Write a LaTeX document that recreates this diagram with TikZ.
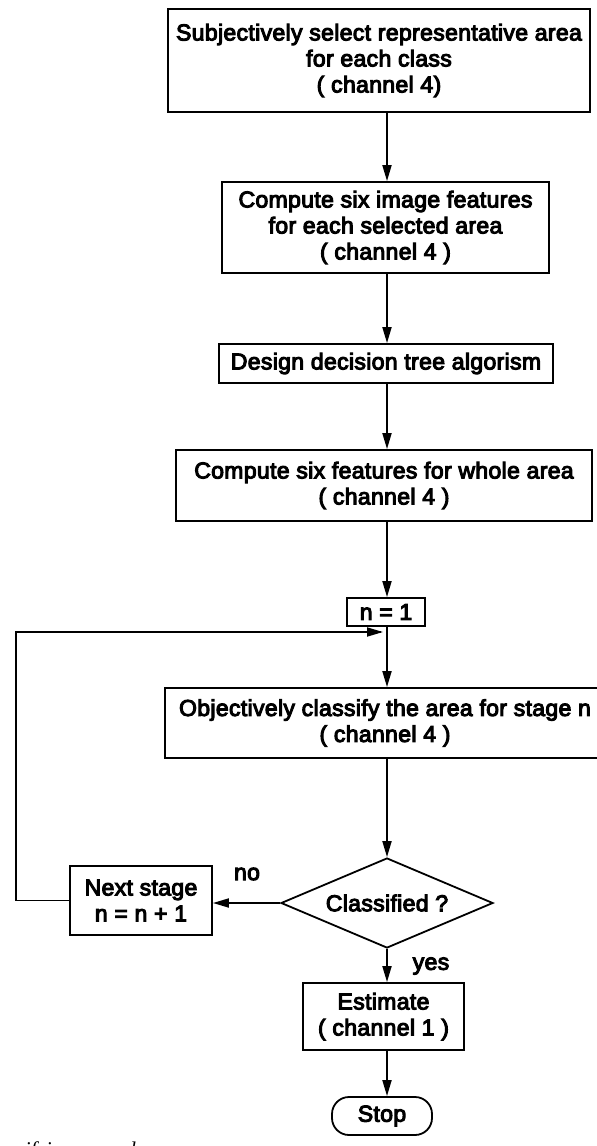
\documentclass[tikz,border=0pt]{standalone}
\usepackage{fontspec}
\usetikzlibrary{arrows.meta,shapes.geometric}
\newfontfamily\hv{Liberation Sans}[FakeBold=4.5,LetterSpace=1.5]
\newfontfamily\capfont{Liberation Serif}
\begin{document}
\begin{tikzpicture}[x=1pt,y=1pt,
  txt/.style={font=\hv\fontsize{23}{26}\selectfont},
  box/.style={draw, line width=1.8pt, inner sep=0pt, align=center, txt},
  arr/.style={line width=1.8pt, -{Triangle[length=16pt,width=9pt]}},
  ln/.style={line width=1.5pt},
  lbl/.style={txt, inner sep=0pt}]
\useasboundingbox (0,0) rectangle (597,-1146);
\coordinate (col) at (387,0);
\coordinate (lft) at (16,0);
\node[box, minimum width=422pt, minimum height=103pt] (b1) at (379,-60.5)
  {Subjectively select representative area\\for each class\\( channel 4)};
\node[box, minimum width=327pt, minimum height=91pt] (b2) at (385.5,-227.5)
  {Compute six image features\\for each selected area\\( channel 4 )};
\node[box, minimum width=334pt, minimum height=39pt] (b3) at (386,-363.5)
  {Design decision tree algorism};
\node[box, minimum width=416pt, minimum height=71pt] (b4) at (384,-485.5)
  {Compute six features for whole area\\( channel 4 )};
\node[box, minimum width=78pt, minimum height=28pt] (n1) at (386,-612) {n = 1};
\node[box, minimum width=440pt, minimum height=70pt] (oc) at (385,-723)
  {Objectively classify the area for stage n\\( channel 4 )};
\node[box, shape=diamond, aspect=2.28, minimum width=212pt, minimum height=90pt] (dm) at (387,-903)
  {Classified ?};
\node[box, minimum width=142pt, minimum height=69pt] (ns) at (141,-900.5)
  {Next stage\\n = n + 1};
\node[box, minimum width=161pt, minimum height=67pt] (es) at (383.5,-1016.5)
  {Estimate\\( channel 1 )};
\node[box, rounded corners=17pt, minimum width=100pt, minimum height=38pt] (st) at (382,-1116)
  {Stop};
\coordinate (loopin) at (383,-632);
\node[lbl] (no) at (247,-874) {no};
\node[lbl] (yes) at (431,-966) {yes};
\node[font=\capfont\itshape\fontsize{21}{24}\selectfont, anchor=base east, inner sep=0pt] (cap) at (163,-1156) {ssifying procedure};

\draw[arr] (b1.south -| col) -- (b2.north -| col);
\draw[arr] (b2.south -| col) -- (b3.north -| col);
\draw[arr] (b3.south -| col) -- (b4.north -| col);
\draw[arr] (b4.south -| col) -- (n1.north -| col);
\draw[arr] (n1.south -| col) -- (oc.north -| col);
\draw[arr] (oc.south -| col) -- (dm.north);
\draw[arr] (dm.west) -- (dm.west -| ns.east);
\draw[arr] (dm.south) -- (es.north -| col);
\draw[arr] (es.south -| col) -- (st.north -| col);
\draw[ln] (ns.west) -- (ns.west -| lft) |- ([xshift=-2pt]loopin);
\draw[arr] ([xshift=-40pt]loopin) -- (loopin);
\end{tikzpicture}
\end{document}
